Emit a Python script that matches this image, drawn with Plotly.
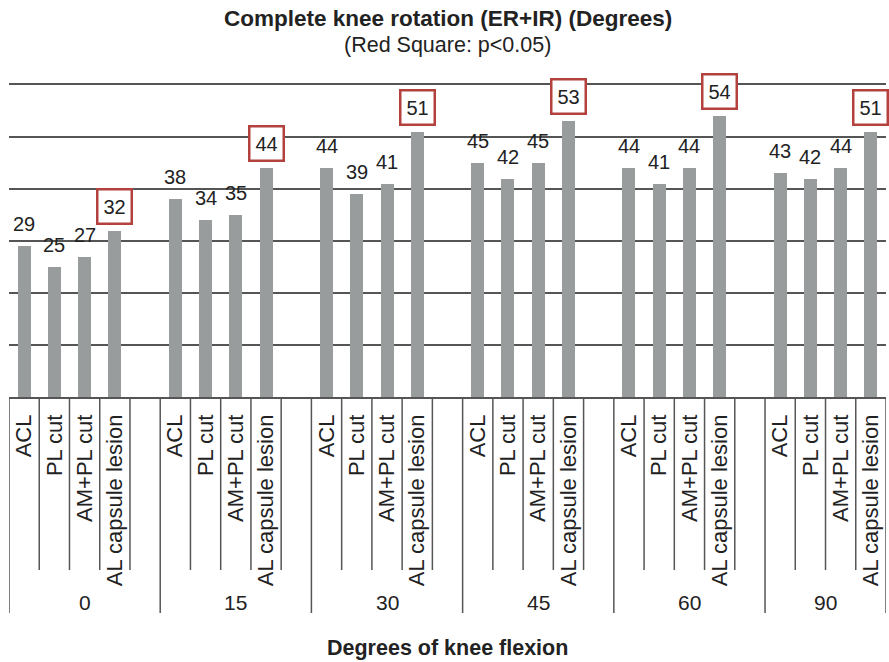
import plotly.graph_objects as go

# ---- data ----
flexion_groups = ["0", "15", "30", "45", "60", "90"]
conditions = ["ACL", "PL cut", "AM+PL cut", "AL capsule lesion"]
acl = [29, 38, 44, 45, 44, 43]
pl_cut = [25, 34, 39, 42, 41, 42]
ampl_cut = [27, 35, 41, 45, 44, 44]
al_capsule = [32, 44, 51, 53, 54, 51]
significant = [False, False, False, True]  # red square on AL capsule lesion
series = [acl, pl_cut, ampl_cut, al_capsule]

# ---- style ----
FONT = "Liberation Sans, Arial, Helvetica, sans-serif"
BAR = "#999c9c"
RED = "#b3413e"
LINE = "#555555"
TXT = "#222222"

slots_per_group = len(conditions) + 1
n_slots = len(flexion_groups) * slots_per_group - 1

fig = go.Figure()
annotations = []
shapes = []
tickvals, ticktext = [], []

for k, (name, vals) in enumerate(zip(conditions, series)):
    xs = [g * slots_per_group + k + 0.5 for g in range(len(flexion_groups))]
    fig.add_trace(go.Bar(x=xs, y=vals, name=name, width=0.43,
                         marker=dict(color=BAR, line=dict(width=0)),
                         showlegend=False))
    for x, v in zip(xs, vals):
        tickvals.append(x)
        ticktext.append(name)
        if significant[k]:
            annotations.append(dict(x=x, y=v, xref="x", yref="y", text=str(v),
                                    showarrow=False, yanchor="bottom", yshift=6,
                                    font=dict(family=FONT, size=20, color=TXT),
                                    bordercolor=RED, borderwidth=2.5, borderpad=5,
                                    bgcolor="white"))
        else:
            annotations.append(dict(x=x, y=v, xref="x", yref="y", text=str(v),
                                    showarrow=False, yanchor="bottom", yshift=9,
                                    font=dict(family=FONT, size=20, color=TXT)))

# separators under the axis
plot_h = 397 - 85
short_end = (397 - 570) / plot_h
long_end = (397 - 613) / plot_h
for s in range(n_slots + 1):
    is_long = (s % slots_per_group == 0) or s == n_slots
    shapes.append(dict(type="line", xref="x", yref="paper", x0=s, x1=s,
                       y0=0, y1=long_end if is_long else short_end,
                       line=dict(color=LINE, width=1.5)))

# group labels
for g, lab in enumerate(flexion_groups):
    start = g * slots_per_group
    end = min(start + slots_per_group, n_slots)
    annotations.append(dict(x=(start + end) / 2, y=(397 - 602) / plot_h,
                            xref="x", yref="paper", text=lab, showarrow=False,
                            yanchor="middle", font=dict(family=FONT, size=21, color=TXT)))

# titles
annotations.append(dict(x=0.5, y=(397 - 18) / plot_h, xref="paper", yref="paper",
                        text="<b>Complete knee rotation (ER+IR) (Degrees)</b>",
                        showarrow=False, yanchor="middle",
                        font=dict(family=FONT, size=22.5, color=TXT)))
annotations.append(dict(x=0.5, y=(397 - 45) / plot_h, xref="paper", yref="paper",
                        text="(Red Square: p&lt;0.05)",
                        showarrow=False, yanchor="middle",
                        font=dict(family=FONT, size=21.5, color=TXT)))
annotations.append(dict(x=0.5, y=(397 - 648) / plot_h, xref="paper", yref="paper",
                        text="<b>Degrees of knee flexion</b>",
                        showarrow=False, yanchor="middle",
                        font=dict(family=FONT, size=21.5, color=TXT)))

fig.update_layout(
    width=889, height=662,
    margin=dict(l=9, r=3, t=85, b=662 - 397, autoexpand=False),
    paper_bgcolor="white", plot_bgcolor="white",
    bargap=0, barmode="overlay",
    annotations=annotations, shapes=shapes,
    xaxis=dict(range=[0, n_slots], tickvals=tickvals, ticktext=ticktext,
               tickangle=-90, tickfont=dict(family=FONT, size=22, color=TXT),
               ticks="outside", ticklen=7, tickcolor="rgba(0,0,0,0)",
               showgrid=False, zeroline=False, showline=True, mirror=True,
               linecolor=LINE, linewidth=1.5, automargin=False, fixedrange=True),
    yaxis=dict(range=[0, 60], dtick=10, showticklabels=False, ticks="",
               showgrid=True, gridcolor=LINE, gridwidth=1.5, zeroline=False,
               showline=False, automargin=False, fixedrange=True),
)

fig.write_html("out.html", config={"displayModeBar": False},
               post_script="document.body.style.margin='0';document.body.style.overflow='hidden';")
